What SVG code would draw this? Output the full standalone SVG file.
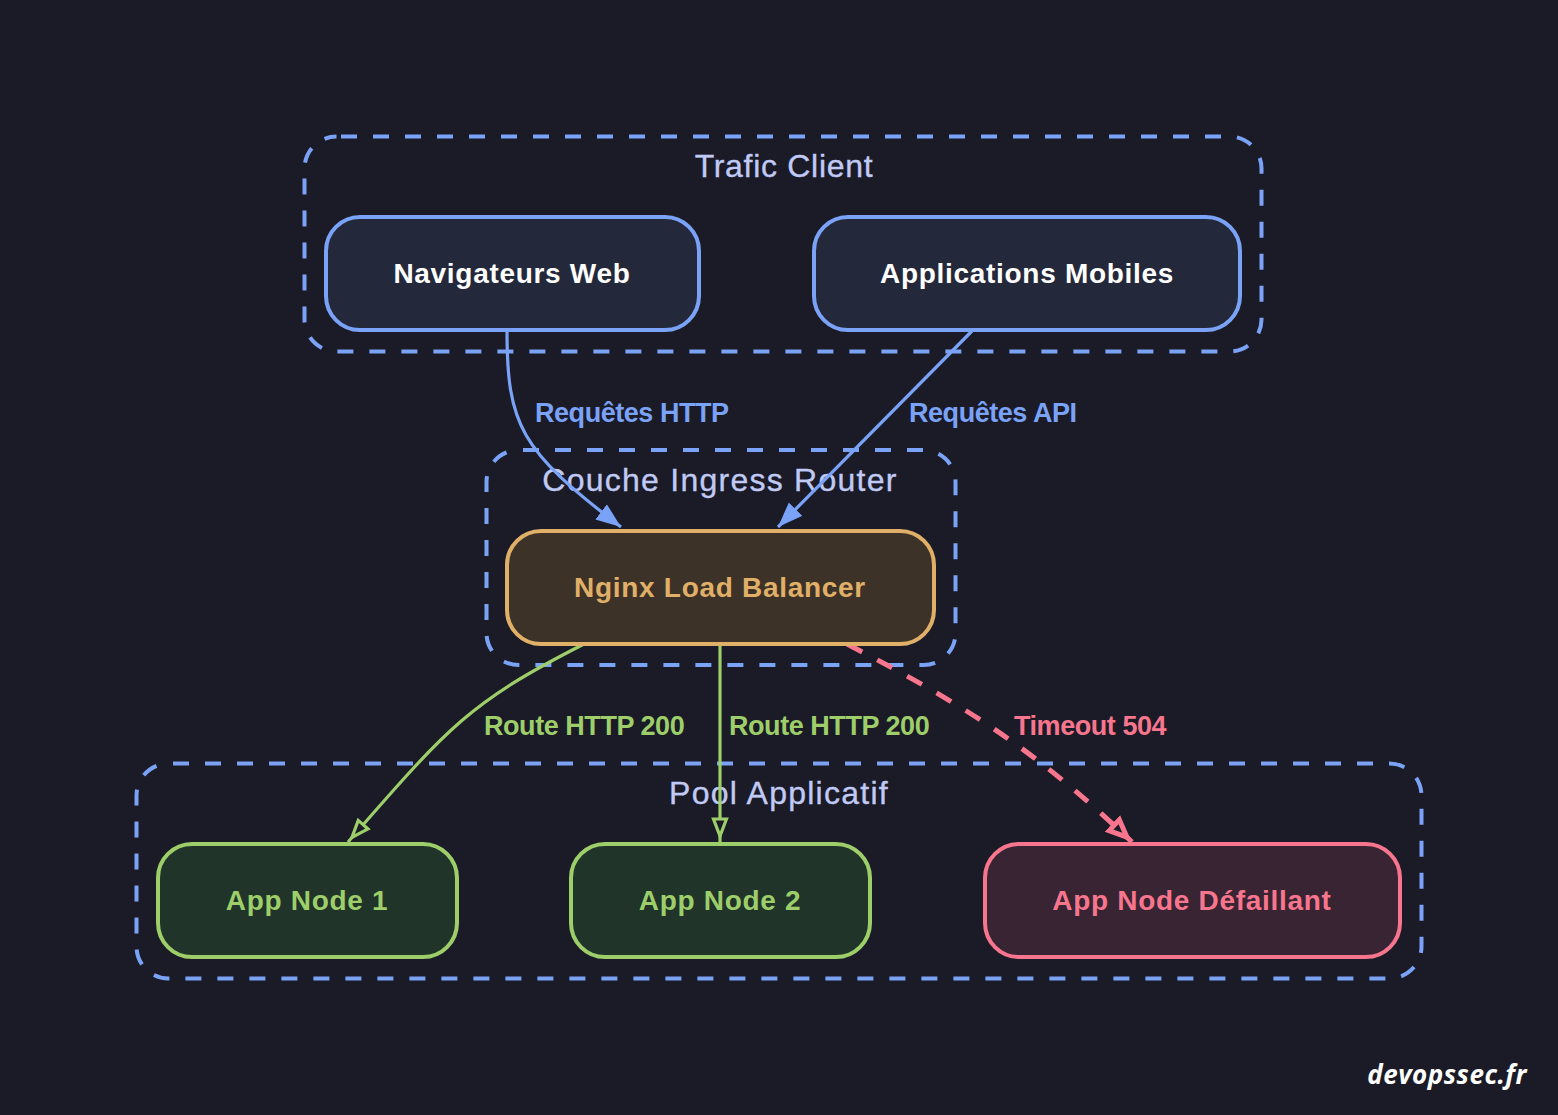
<svg xmlns="http://www.w3.org/2000/svg" width="1558" height="1115" viewBox="0 0 1558 1115">
<style>
text{font-family:"Liberation Sans",Arial,sans-serif}
.grp{fill:#1a1b26;stroke:#7aa2f7;stroke-width:4;stroke-dasharray:16 16;stroke-dashoffset:-4.5}
.gl{fill:#c0caf5;stroke:#c0caf5;stroke-width:.35;font-size:32px;text-anchor:middle;letter-spacing:1.25px}
.node{stroke-width:4}
.nl{font-size:28px;font-weight:700;text-anchor:middle;letter-spacing:.7px}
.el{font-size:27px;font-weight:700;letter-spacing:-.45px}
.c{fill:none;stroke-width:3.2}
</style>
<defs>
<marker id="ab" markerUnits="userSpaceOnUse" markerWidth="28" markerHeight="22" refX="25" refY="10" orient="auto"><path d="M0,0.500L25,10L0,19.500Z" fill="#7aa2f7"/></marker>
<marker id="ag" markerUnits="userSpaceOnUse" markerWidth="28" markerHeight="22" refX="25" refY="11" orient="auto"><path d="M2,4.500L19,11L2,17.500Z" fill="#1a1b26" stroke="#9ece6a" stroke-width="3.200"/></marker>
<marker id="ar" markerUnits="userSpaceOnUse" markerWidth="32" markerHeight="28" refX="27" refY="14" orient="auto"><path d="M2.500,6.500L20,14L2.500,21.500Z" fill="#1a1b26" stroke="#f7768e" stroke-width="5"/></marker>
</defs>
<rect width="1558" height="1115" fill="#1a1b26"/>
<g id="group-client"><rect class="grp" x="304.500" y="136.500" width="957" height="215" rx="32"/><text class="gl" x="784" y="177" style="letter-spacing:.7px">Trafic Client</text></g>
<g id="group-ingress"><rect class="grp" x="486.500" y="450" width="469" height="215" rx="32"/><text class="gl" x="720" y="491">Couche Ingress Router</text></g>
<g id="group-pool"><rect class="grp" x="136.500" y="763.500" width="1285" height="215" rx="32"/><text class="gl" x="779" y="804">Pool Applicatif</text></g>
<g id="connectors">
<path class="c" stroke="#7aa2f7" marker-end="url(#ab)" d="M507,330C507,425 520,450 621,527"/>
<path class="c" stroke="#7aa2f7" marker-end="url(#ab)" d="M972,331L778,527"/>
<path class="c" stroke="#9ece6a" marker-end="url(#ag)" d="M584,644C470,702 450,725 348,842"/>
<path class="c" stroke="#9ece6a" marker-end="url(#ag)" d="M720,644L720,842"/>
<path class="c" stroke="#f7768e" style="stroke-width:5;stroke-dasharray:17 17" marker-end="url(#ar)" d="M847,644C975,710 1040,755 1132,842"/>
</g>
<g id="edge-labels">
<text class="el" fill="#7aa2f7" x="535" y="422">Requêtes HTTP</text>
<text class="el" fill="#7aa2f7" x="909" y="422">Requêtes API</text>
<text class="el" fill="#9ece6a" x="484" y="735">Route HTTP 200</text>
<text class="el" fill="#9ece6a" x="729" y="735">Route HTTP 200</text>
<text class="el" fill="#f7768e" x="1014" y="735">Timeout 504</text>
</g>
<g id="node-nav"><rect class="node" x="326" y="217" width="373" height="113" rx="34" fill="#24283b" stroke="#7aa2f7"/><text class="nl" x="512" y="283" fill="#fff">Navigateurs Web</text></g>
<g id="node-mobile"><rect class="node" x="814" y="217" width="426" height="113" rx="34" fill="#24283b" stroke="#7aa2f7"/><text class="nl" x="1027" y="283" fill="#fff">Applications Mobiles</text></g>
<g id="node-nginx"><rect class="node" x="507" y="531" width="427" height="113" rx="34" fill="#3d3227" stroke="#e0af68"/><text class="nl" x="720" y="597" fill="#e0af68">Nginx Load Balancer</text></g>
<g id="node-app1"><rect class="node" x="158" y="844" width="299" height="113" rx="34" fill="#20342a" stroke="#9ece6a"/><text class="nl" x="307" y="910" fill="#9ece6a">App Node 1</text></g>
<g id="node-app2"><rect class="node" x="571" y="844" width="299" height="113" rx="34" fill="#20342a" stroke="#9ece6a"/><text class="nl" x="720" y="910" fill="#9ece6a">App Node 2</text></g>
<g id="node-app3"><rect class="node" x="985" y="844" width="415" height="113" rx="34" fill="#392433" stroke="#f7768e"/><text class="nl" x="1192" y="910" fill="#f7768e">App Node Défaillant</text></g>
<text x="1527" y="1084" text-anchor="end" fill="#fff" style="font-family:'Open Sans',sans-serif;font-size:26px;font-weight:700;font-style:italic;letter-spacing:.5px">devopssec.fr</text>
</svg>
